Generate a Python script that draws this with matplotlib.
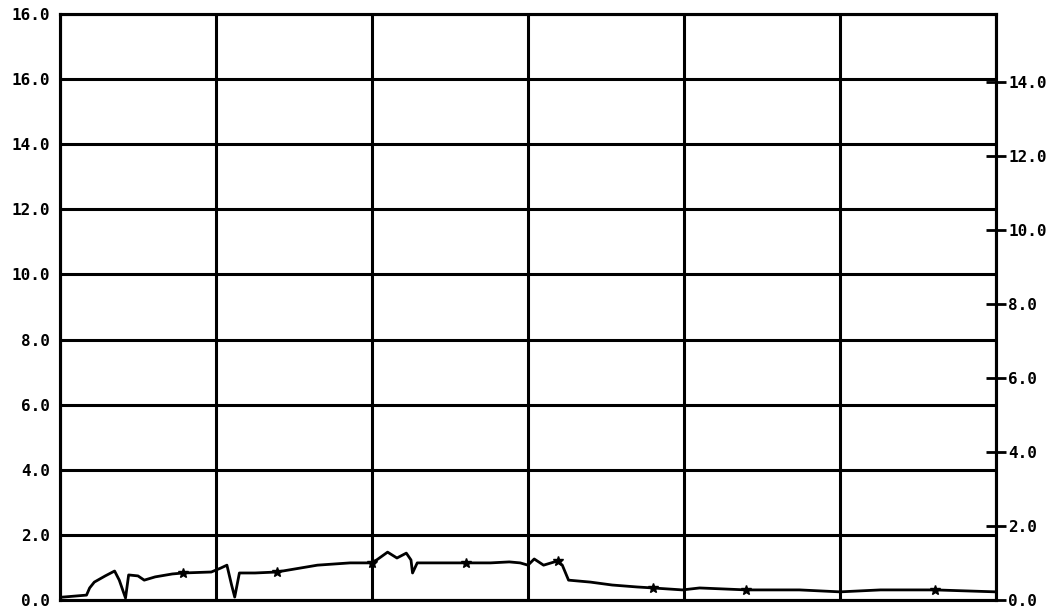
import matplotlib.pyplot as plt

# trace (x in grid columns, y on left scale)
x_vals = [0.02, 0.17, 0.19, 0.22, 0.29, 0.35, 0.38, 0.42, 0.44, 0.50, 0.54, 0.61,
          0.72, 0.79, 0.97, 1.03, 1.07, 1.10, 1.12, 1.15, 1.25, 1.39, 1.65, 1.86,
          1.99, 2.03, 2.10, 2.16, 2.22, 2.25, 2.26, 2.29, 2.50, 2.60, 2.76, 2.88,
          2.95, 3.00, 3.04, 3.10, 3.19, 3.22, 3.26, 3.40, 3.54, 3.70, 3.80, 3.99,
          4.10, 4.40, 4.74, 5.00, 5.26, 5.61, 6.00]
y_vals = [0.09, 0.15, 0.37, 0.55, 0.74, 0.89, 0.61, 0.06, 0.77, 0.74, 0.61, 0.71,
          0.80, 0.83, 0.86, 0.98, 1.07, 0.46, 0.09, 0.83, 0.83, 0.86, 1.07, 1.14,
          1.14, 1.23, 1.47, 1.29, 1.44, 1.23, 0.83, 1.14, 1.14, 1.14, 1.14, 1.17,
          1.14, 1.07, 1.26, 1.07, 1.20, 1.07, 0.61, 0.55, 0.46, 0.40, 0.37, 0.31,
          0.37, 0.31, 0.31, 0.25, 0.31, 0.31, 0.25]

# small symbols along the trace
mark_x = [0.79, 1.39, 2.00, 2.60, 3.19, 3.80, 4.40, 5.61]
mark_y = [0.83, 0.86, 1.14, 1.14, 1.20, 0.37, 0.31, 0.31]

left_ticks = [0, 2, 4, 6, 8, 10, 12, 14, 16, 18]
left_labels = ["0.0", "2.0", "4.0", "6.0", "8.0", "10.0", "12.0", "14.0", "16.0", "16.0"]
right_ticks = [0, 2, 4, 6, 8, 10, 12, 14]
right_labels = ["0.0", "2.0", "4.0", "6.0", "8.0", "10.0", "12.0", "14.0"]
right_top = 15.84
col_edges = [0, 1, 2, 3, 4, 5, 6]

fig = plt.figure(figsize=(10.6, 6.06), dpi=100)
ax = fig.add_axes([0.0566, 0.0099, 0.883, 0.967])
lw = 2.2
font = dict(family="DejaVu Sans Mono", fontsize=11.5, fontweight="bold")

ax.set_xlim(0, 6)
ax.set_ylim(0, 18)
for v in left_ticks:
    ax.axhline(v, color="black", lw=lw, zorder=1)
for c in col_edges:
    ax.axvline(c, color="black", lw=lw, zorder=1)
for s in ax.spines.values():
    s.set_linewidth(lw)

ax.plot(x_vals, y_vals, color="black", lw=2.0, zorder=3)
ax.plot(mark_x, mark_y, linestyle="none", marker="*", ms=7, color="black", zorder=4)

ax.set_xticks([])
ax.set_yticks(left_ticks)
ax.set_yticklabels(left_labels, **font)
ax.tick_params(axis="y", length=0, pad=7)

ax2 = ax.twinx()
ax2.set_ylim(0, right_top)
ax2.set_yticks(right_ticks)
ax2.set_yticklabels(right_labels, **font)
ax2.tick_params(axis="y", direction="inout", length=14, width=2, pad=2)
for s in ax2.spines.values():
    s.set_linewidth(lw)

fig.savefig("out.png", dpi=100, facecolor="white")
